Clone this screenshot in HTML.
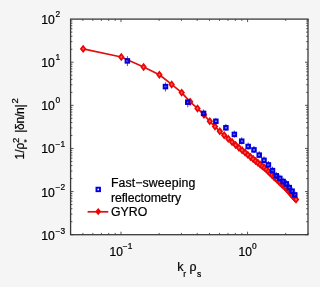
<!DOCTYPE html>
<html><head><meta charset="utf-8"><style>
html,body{margin:0;padding:0;background:#f5f5f5;width:320px;height:287px;overflow:hidden}
svg{display:block}
</style></head><body>
<svg width="320" height="287" viewBox="0 0 320 287">
<defs><filter id="gs" x="0" y="0" width="320" height="287" filterUnits="userSpaceOnUse"><feOffset dx="0" dy="0"/></filter></defs>
<g>
<rect x="-5" y="-5" width="330" height="297" fill="#f5f5f5"/>
<rect x="70.6" y="19.1" width="237.4" height="215.6" fill="#fff"/>
<path d="M70.60 234.7v-1.8M70.60 19.1v1.8M82.87 234.7v-1.8M82.87 19.1v1.8M92.89 234.7v-1.8M92.89 19.1v1.8M101.37 234.7v-1.8M101.37 19.1v1.8M108.71 234.7v-1.8M108.71 19.1v1.8M115.19 234.7v-1.8M115.19 19.1v1.8M120.98 234.7v-3.0M120.98 19.1v3.0M159.10 234.7v-1.8M159.10 19.1v1.8M181.39 234.7v-1.8M181.39 19.1v1.8M197.21 234.7v-1.8M197.21 19.1v1.8M209.48 234.7v-1.8M209.48 19.1v1.8M219.50 234.7v-1.8M219.50 19.1v1.8M227.98 234.7v-1.8M227.98 19.1v1.8M235.32 234.7v-1.8M235.32 19.1v1.8M241.80 234.7v-1.8M241.80 19.1v1.8M247.59 234.7v-3.0M247.59 19.1v3.0M285.71 234.7v-1.8M285.71 19.1v1.8M308.00 234.7v-1.8M308.00 19.1v1.8M70.6 234.70h3.0M308.0 234.70h-3.0M70.6 221.72h1.8M308.0 221.72h-1.8M70.6 214.13h1.8M308.0 214.13h-1.8M70.6 208.74h1.8M308.0 208.74h-1.8M70.6 204.56h1.8M308.0 204.56h-1.8M70.6 201.15h1.8M308.0 201.15h-1.8M70.6 198.26h1.8M308.0 198.26h-1.8M70.6 195.76h1.8M308.0 195.76h-1.8M70.6 193.55h1.8M308.0 193.55h-1.8M70.6 191.58h3.0M308.0 191.58h-3.0M70.6 178.60h1.8M308.0 178.60h-1.8M70.6 171.01h1.8M308.0 171.01h-1.8M70.6 165.62h1.8M308.0 165.62h-1.8M70.6 161.44h1.8M308.0 161.44h-1.8M70.6 158.03h1.8M308.0 158.03h-1.8M70.6 155.14h1.8M308.0 155.14h-1.8M70.6 152.64h1.8M308.0 152.64h-1.8M70.6 150.43h1.8M308.0 150.43h-1.8M70.6 148.46h3.0M308.0 148.46h-3.0M70.6 135.48h1.8M308.0 135.48h-1.8M70.6 127.89h1.8M308.0 127.89h-1.8M70.6 122.50h1.8M308.0 122.50h-1.8M70.6 118.32h1.8M308.0 118.32h-1.8M70.6 114.91h1.8M308.0 114.91h-1.8M70.6 112.02h1.8M308.0 112.02h-1.8M70.6 109.52h1.8M308.0 109.52h-1.8M70.6 107.31h1.8M308.0 107.31h-1.8M70.6 105.34h3.0M308.0 105.34h-3.0M70.6 92.36h1.8M308.0 92.36h-1.8M70.6 84.77h1.8M308.0 84.77h-1.8M70.6 79.38h1.8M308.0 79.38h-1.8M70.6 75.20h1.8M308.0 75.20h-1.8M70.6 71.79h1.8M308.0 71.79h-1.8M70.6 68.90h1.8M308.0 68.90h-1.8M70.6 66.40h1.8M308.0 66.40h-1.8M70.6 64.19h1.8M308.0 64.19h-1.8M70.6 62.22h3.0M308.0 62.22h-3.0M70.6 49.24h1.8M308.0 49.24h-1.8M70.6 41.65h1.8M308.0 41.65h-1.8M70.6 36.26h1.8M308.0 36.26h-1.8M70.6 32.08h1.8M308.0 32.08h-1.8M70.6 28.67h1.8M308.0 28.67h-1.8M70.6 25.78h1.8M308.0 25.78h-1.8M70.6 23.28h1.8M308.0 23.28h-1.8M70.6 21.07h1.8M308.0 21.07h-1.8" stroke="#444" stroke-width="0.9" fill="none"/>
<polyline points="83.17,48.88 121.28,56.97 143.58,67.08 159.40,74.73 171.67,84.40 181.69,92.62 190.17,101.84 197.51,108.40 203.99,114.82 209.78,121.28 215.02,126.62 219.80,131.36 224.21,135.17 228.28,138.69 232.07,141.97 235.62,145.00 238.96,147.68 242.10,150.21 245.07,152.61 247.89,154.88 250.57,157.04 253.13,159.10 255.58,161.04 257.92,162.84 260.16,164.57 262.32,166.23 264.39,167.83 266.39,169.56 268.32,171.43 270.19,173.24 271.99,174.98 273.74,176.68 275.43,178.30 277.07,179.83 278.66,181.32 280.21,182.76 281.72,184.17 283.18,185.53 284.61,186.87 286.01,188.29 287.36,189.83 288.69,191.33 289.98,192.80 291.25,194.23 292.48,195.63 293.69,197.01 294.87,198.35 296.03,199.40" fill="none" stroke="#e01010" stroke-width="1.7" stroke-linejoin="round"/>
<path d="M80.97 48.88L83.17 46.03L85.37 48.88L83.17 51.73Z" fill="#f86060" stroke="#ea0505" stroke-width="1.7"/>
<path d="M119.08 56.97L121.28 54.12L123.48 56.97L121.28 59.82Z" fill="#f86060" stroke="#ea0505" stroke-width="1.7"/>
<path d="M141.38 67.08L143.58 64.23L145.78 67.08L143.58 69.93Z" fill="#f86060" stroke="#ea0505" stroke-width="1.7"/>
<path d="M157.20 74.73L159.40 71.88L161.60 74.73L159.40 77.58Z" fill="#f86060" stroke="#ea0505" stroke-width="1.7"/>
<path d="M169.47 84.40L171.67 81.55L173.87 84.40L171.67 87.25Z" fill="#f86060" stroke="#ea0505" stroke-width="1.7"/>
<path d="M179.49 92.62L181.69 89.77L183.89 92.62L181.69 95.47Z" fill="#f86060" stroke="#ea0505" stroke-width="1.7"/>
<path d="M187.97 101.84L190.17 98.99L192.37 101.84L190.17 104.69Z" fill="#f86060" stroke="#ea0505" stroke-width="1.7"/>
<path d="M195.31 108.40L197.51 105.55L199.71 108.40L197.51 111.25Z" fill="#f86060" stroke="#ea0505" stroke-width="1.7"/>
<path d="M201.79 114.82L203.99 111.97L206.19 114.82L203.99 117.67Z" fill="#f86060" stroke="#ea0505" stroke-width="1.7"/>
<path d="M207.58 121.28L209.78 118.43L211.98 121.28L209.78 124.13Z" fill="#f86060" stroke="#ea0505" stroke-width="1.7"/>
<path d="M212.82 126.62L215.02 123.77L217.22 126.62L215.02 129.47Z" fill="#f86060" stroke="#ea0505" stroke-width="1.7"/>
<path d="M217.60 131.36L219.80 128.51L222.00 131.36L219.80 134.21Z" fill="#f86060" stroke="#ea0505" stroke-width="1.7"/>
<path d="M222.01 135.17L224.21 132.32L226.41 135.17L224.21 138.02Z" fill="#f86060" stroke="#ea0505" stroke-width="1.7"/>
<path d="M226.08 138.69L228.28 135.84L230.48 138.69L228.28 141.54Z" fill="#f86060" stroke="#ea0505" stroke-width="1.7"/>
<path d="M229.87 141.97L232.07 139.12L234.27 141.97L232.07 144.82Z" fill="#f86060" stroke="#ea0505" stroke-width="1.7"/>
<path d="M233.42 145.00L235.62 142.15L237.82 145.00L235.62 147.85Z" fill="#f86060" stroke="#ea0505" stroke-width="1.7"/>
<path d="M236.76 147.68L238.96 144.83L241.16 147.68L238.96 150.53Z" fill="#f86060" stroke="#ea0505" stroke-width="1.7"/>
<path d="M239.90 150.21L242.10 147.36L244.30 150.21L242.10 153.06Z" fill="#f86060" stroke="#ea0505" stroke-width="1.7"/>
<path d="M242.87 152.61L245.07 149.76L247.27 152.61L245.07 155.46Z" fill="#f86060" stroke="#ea0505" stroke-width="1.7"/>
<path d="M245.69 154.88L247.89 152.03L250.09 154.88L247.89 157.73Z" fill="#f86060" stroke="#ea0505" stroke-width="1.7"/>
<path d="M248.37 157.04L250.57 154.19L252.77 157.04L250.57 159.89Z" fill="#f86060" stroke="#ea0505" stroke-width="1.7"/>
<path d="M250.93 159.10L253.13 156.25L255.33 159.10L253.13 161.95Z" fill="#f86060" stroke="#ea0505" stroke-width="1.7"/>
<path d="M253.38 161.04L255.58 158.19L257.78 161.04L255.58 163.89Z" fill="#f86060" stroke="#ea0505" stroke-width="1.7"/>
<path d="M255.72 162.84L257.92 159.99L260.12 162.84L257.92 165.69Z" fill="#f86060" stroke="#ea0505" stroke-width="1.7"/>
<path d="M257.96 164.57L260.16 161.72L262.36 164.57L260.16 167.42Z" fill="#f86060" stroke="#ea0505" stroke-width="1.7"/>
<path d="M260.12 166.23L262.32 163.38L264.52 166.23L262.32 169.08Z" fill="#f86060" stroke="#ea0505" stroke-width="1.7"/>
<path d="M262.19 167.83L264.39 164.98L266.59 167.83L264.39 170.68Z" fill="#f86060" stroke="#ea0505" stroke-width="1.7"/>
<path d="M264.19 169.56L266.39 166.71L268.59 169.56L266.39 172.41Z" fill="#f86060" stroke="#ea0505" stroke-width="1.7"/>
<path d="M266.12 171.43L268.32 168.58L270.52 171.43L268.32 174.28Z" fill="#f86060" stroke="#ea0505" stroke-width="1.7"/>
<path d="M267.99 173.24L270.19 170.39L272.39 173.24L270.19 176.09Z" fill="#f86060" stroke="#ea0505" stroke-width="1.7"/>
<path d="M269.79 174.98L271.99 172.13L274.19 174.98L271.99 177.83Z" fill="#f86060" stroke="#ea0505" stroke-width="1.7"/>
<path d="M271.54 176.68L273.74 173.83L275.94 176.68L273.74 179.53Z" fill="#f86060" stroke="#ea0505" stroke-width="1.7"/>
<path d="M273.23 178.30L275.43 175.45L277.63 178.30L275.43 181.15Z" fill="#f86060" stroke="#ea0505" stroke-width="1.7"/>
<path d="M274.87 179.83L277.07 176.98L279.27 179.83L277.07 182.68Z" fill="#f86060" stroke="#ea0505" stroke-width="1.7"/>
<path d="M276.46 181.32L278.66 178.47L280.86 181.32L278.66 184.17Z" fill="#f86060" stroke="#ea0505" stroke-width="1.7"/>
<path d="M278.01 182.76L280.21 179.91L282.41 182.76L280.21 185.61Z" fill="#f86060" stroke="#ea0505" stroke-width="1.7"/>
<path d="M279.52 184.17L281.72 181.32L283.92 184.17L281.72 187.02Z" fill="#f86060" stroke="#ea0505" stroke-width="1.7"/>
<path d="M280.98 185.53L283.18 182.68L285.38 185.53L283.18 188.38Z" fill="#f86060" stroke="#ea0505" stroke-width="1.7"/>
<path d="M282.41 186.87L284.61 184.02L286.81 186.87L284.61 189.72Z" fill="#f86060" stroke="#ea0505" stroke-width="1.7"/>
<path d="M283.81 188.29L286.01 185.44L288.21 188.29L286.01 191.14Z" fill="#f86060" stroke="#ea0505" stroke-width="1.7"/>
<path d="M285.16 189.83L287.36 186.98L289.56 189.83L287.36 192.68Z" fill="#f86060" stroke="#ea0505" stroke-width="1.7"/>
<path d="M286.49 191.33L288.69 188.48L290.89 191.33L288.69 194.18Z" fill="#f86060" stroke="#ea0505" stroke-width="1.7"/>
<path d="M287.78 192.80L289.98 189.95L292.18 192.80L289.98 195.65Z" fill="#f86060" stroke="#ea0505" stroke-width="1.7"/>
<path d="M289.05 194.23L291.25 191.38L293.45 194.23L291.25 197.08Z" fill="#f86060" stroke="#ea0505" stroke-width="1.7"/>
<path d="M290.28 195.63L292.48 192.78L294.68 195.63L292.48 198.48Z" fill="#f86060" stroke="#ea0505" stroke-width="1.7"/>
<path d="M291.49 197.01L293.69 194.16L295.89 197.01L293.69 199.86Z" fill="#f86060" stroke="#ea0505" stroke-width="1.7"/>
<path d="M292.67 198.35L294.87 195.50L297.07 198.35L294.87 201.20Z" fill="#f86060" stroke="#ea0505" stroke-width="1.7"/>
<path d="M293.83 199.40L296.03 196.55L298.23 199.40L296.03 202.25Z" fill="#f86060" stroke="#ea0505" stroke-width="1.7"/>
<path d="M127.37 56.10V66.10" stroke="#3030f0" stroke-width="0.9"/>
<rect x="125.62" y="59.15" width="3.5" height="3.5" fill="none" stroke="#0000dc" stroke-width="2.0"/>
<path d="M165.48 82.40V91.50" stroke="#3030f0" stroke-width="0.9"/>
<rect x="163.73" y="84.85" width="3.5" height="3.5" fill="none" stroke="#0000dc" stroke-width="2.0"/>
<path d="M187.77 98.90V107.30" stroke="#3030f0" stroke-width="0.9"/>
<rect x="186.02" y="100.45" width="3.5" height="3.5" fill="none" stroke="#0000dc" stroke-width="2.0"/>
<path d="M203.59 109.50V117.90" stroke="#3030f0" stroke-width="0.9"/>
<rect x="201.84" y="111.65" width="3.5" height="3.5" fill="none" stroke="#0000dc" stroke-width="2.0"/>
<path d="M215.86 117.90V124.80" stroke="#3030f0" stroke-width="0.9"/>
<rect x="214.11" y="119.55" width="3.5" height="3.5" fill="none" stroke="#0000dc" stroke-width="2.0"/>
<path d="M225.89 123.90V131.00" stroke="#3030f0" stroke-width="0.9"/>
<rect x="224.14" y="126.05" width="3.5" height="3.5" fill="none" stroke="#0000dc" stroke-width="2.0"/>
<path d="M234.36 130.50V137.60" stroke="#3030f0" stroke-width="0.9"/>
<rect x="232.61" y="132.65" width="3.5" height="3.5" fill="none" stroke="#0000dc" stroke-width="2.0"/>
<path d="M241.71 137.30V144.40" stroke="#3030f0" stroke-width="0.9"/>
<rect x="239.96" y="139.45" width="3.5" height="3.5" fill="none" stroke="#0000dc" stroke-width="2.0"/>
<path d="M248.18 142.60V149.70" stroke="#3030f0" stroke-width="0.9"/>
<rect x="246.43" y="144.75" width="3.5" height="3.5" fill="none" stroke="#0000dc" stroke-width="2.0"/>
<path d="M253.98 146.00V153.10" stroke="#3030f0" stroke-width="0.9"/>
<rect x="252.23" y="148.15" width="3.5" height="3.5" fill="none" stroke="#0000dc" stroke-width="2.0"/>
<path d="M259.22 151.20V158.30" stroke="#3030f0" stroke-width="0.9"/>
<rect x="257.47" y="153.35" width="3.5" height="3.5" fill="none" stroke="#0000dc" stroke-width="2.0"/>
<path d="M264.00 156.40V163.50" stroke="#3030f0" stroke-width="0.9"/>
<rect x="262.25" y="158.55" width="3.5" height="3.5" fill="none" stroke="#0000dc" stroke-width="2.0"/>
<path d="M268.40 161.00V168.10" stroke="#3030f0" stroke-width="0.9"/>
<rect x="266.65" y="163.15" width="3.5" height="3.5" fill="none" stroke="#0000dc" stroke-width="2.0"/>
<path d="M272.48 166.70V173.80" stroke="#3030f0" stroke-width="0.9"/>
<rect x="270.73" y="168.85" width="3.5" height="3.5" fill="none" stroke="#0000dc" stroke-width="2.0"/>
<path d="M276.27 171.90V179.00" stroke="#3030f0" stroke-width="0.9"/>
<rect x="274.52" y="174.05" width="3.5" height="3.5" fill="none" stroke="#0000dc" stroke-width="2.0"/>
<path d="M279.82 174.50V181.60" stroke="#3030f0" stroke-width="0.9"/>
<rect x="278.07" y="176.65" width="3.5" height="3.5" fill="none" stroke="#0000dc" stroke-width="2.0"/>
<path d="M283.15 177.60V184.70" stroke="#3030f0" stroke-width="0.9"/>
<rect x="281.40" y="179.75" width="3.5" height="3.5" fill="none" stroke="#0000dc" stroke-width="2.0"/>
<path d="M286.30 180.00V187.10" stroke="#3030f0" stroke-width="0.9"/>
<rect x="284.55" y="182.15" width="3.5" height="3.5" fill="none" stroke="#0000dc" stroke-width="2.0"/>
<path d="M289.27 183.70V190.80" stroke="#3030f0" stroke-width="0.9"/>
<rect x="287.52" y="185.85" width="3.5" height="3.5" fill="none" stroke="#0000dc" stroke-width="2.0"/>
<path d="M292.09 187.30V194.40" stroke="#3030f0" stroke-width="0.9"/>
<rect x="290.34" y="189.45" width="3.5" height="3.5" fill="none" stroke="#0000dc" stroke-width="2.0"/>
<path d="M294.77 191.00V198.10" stroke="#3030f0" stroke-width="0.9"/>
<rect x="293.02" y="193.15" width="3.5" height="3.5" fill="none" stroke="#0000dc" stroke-width="2.0"/>
<rect x="70.6" y="19.1" width="237.4" height="215.6" fill="none" stroke="#3a3a3a" stroke-width="1.3"/>
<path d="M87.6 211.8H108.3" stroke="#e01010" stroke-width="1.7"/>
<path d="M96.1 211.6L98.2 209.0L100.3 211.6L98.2 214.2Z" fill="#ea0505" stroke="#ea0505" stroke-width="1.4"/>
<rect x="96.5" y="187.7" width="3.5" height="3.5" fill="none" stroke="#0000dc" stroke-width="1.9"/>
</g>
<g style="font-family:'Liberation Sans',sans-serif;font-size:12.3px" filter="url(#gs)" fill="#000" stroke="#000" stroke-width="0.22">
<text x="111" y="187.2" style="letter-spacing:0.1px">Fast−sweeping</text>
<text x="111" y="201.6" style="letter-spacing:-0.08px">reflectometry</text>
<text x="111" y="215.6">GYRO</text>
<text x="54.8" y="23.50" text-anchor="end" style="font-size:12.2px">10</text>
<text x="55.6" y="16.90" style="font-size:8.4px">2</text>
<text x="54.8" y="66.82" text-anchor="end" style="font-size:12.2px">10</text>
<text x="55.6" y="60.22" style="font-size:8.4px">1</text>
<text x="54.8" y="109.94" text-anchor="end" style="font-size:12.2px">10</text>
<text x="55.6" y="103.34" style="font-size:8.4px">0</text>
<text x="54.8" y="153.31" text-anchor="end" style="font-size:12.2px">10</text>
<text x="55.6" y="146.71" style="font-size:8.4px">−1</text>
<text x="54.8" y="196.68" text-anchor="end" style="font-size:12.2px">10</text>
<text x="55.6" y="190.08" style="font-size:8.4px">−2</text>
<text x="54.8" y="240.10" text-anchor="end" style="font-size:12.2px">10</text>
<text x="55.6" y="233.50" style="font-size:8.4px">−3</text>
<text x="109.52" y="255.6" style="font-size:12px">10</text>
<text x="122.87" y="249" style="font-size:8.4px">−1</text>
<text x="238.58" y="255.6" style="font-size:12px">10</text>
<text x="251.93" y="249" style="font-size:8.4px">0</text>
<text x="177.2" y="271" style="font-size:12.6px">k</text>
<text x="183.3" y="277.1" style="font-size:8.5px">r</text>
<text x="189.5" y="271" style="font-size:12.3px">ρ</text>
<text x="197.0" y="276.6" style="font-size:8.5px">s</text>
<g transform="translate(24.4,158.3) rotate(-90)">
<text x="-1.20" y="0.00" style="font-size:12px">1/ρ</text>
<text x="15.30" y="-5.90" style="font-size:9.5px">2</text>
<text x="15.80" y="4.80" style="font-size:8px">*</text>
<text x="25.5" y="0" style="font-size:12px;letter-spacing:-0.25px">|δn/n|</text>
<text x="54.80" y="-6.00" style="font-size:9.5px">2</text>
</g>
</g>
</svg>
</body></html>
